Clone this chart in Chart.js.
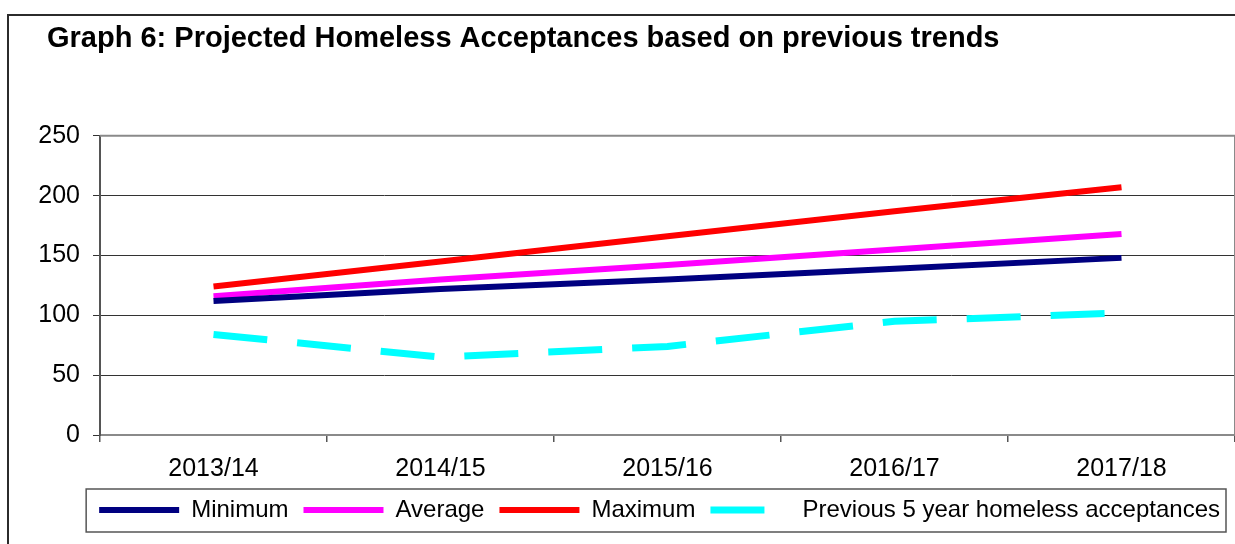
<!DOCTYPE html>
<html>
<head>
<meta charset="utf-8">
<title>Projected Homeless Acceptances</title>
<script src="https://cdn.jsdelivr.net/npm/chart.js@4.4.0/dist/chart.umd.min.js"></script>
<style>
  html, body { margin: 0; padding: 0; background: #fff; overflow: hidden; }
  .frame { position: absolute; left: 7px; top: 14px; width: 1300px; height: 600px; border: 2px solid #2b2b2b; }
  .wrap { position: absolute; left: 0; top: 0; width: 1235px; height: 544px; }
</style>
</head>
<body>
<div class="frame"></div>
<div class="wrap"><canvas id="chart"></canvas></div>
<script>
const years = ["2013/14", "2014/15", "2015/16", "2016/17", "2017/18"];
const minimum = [112, 122, 130, 139, 148];
const average = [116, 130, 142, 155, 168];
const maximum = [124, 145, 166, 187, 207];
const previous = [84, 65, 74, 95, 102];
const yTicks = [0, 50, 100, 150, 200, 250];

const FONT = "'Liberation Sans', Arial, sans-serif";

// grey frame on the top and right of the plot area
const plotFrame = {
  id: "plotFrame",
  afterLayout(chart) {
    // title sits a bit to the right of the axis labels
    chart.titleBlock.left = 47;
  },
  beforeDatasetsDraw(chart) {
    const { ctx, chartArea: a } = chart;
    ctx.save();
    ctx.strokeStyle = "#8a8a8a";
    ctx.lineWidth = 2;
    ctx.beginPath();
    ctx.moveTo(a.left, a.top);
    ctx.lineTo(a.right, a.top);
    ctx.lineTo(a.right, a.bottom);
    ctx.stroke();
    ctx.restore();
  },
};

// box round the legend
const legendBox = {
  id: "legendBox",
  afterDraw(chart) {
    const boxes = chart.legend.legendHitBoxes;
    if (!boxes.length) return;
    const last = boxes[boxes.length - 1];
    const left = boxes[0].left - 13;
    const right = last.left + last.width + 6;
    const mid = boxes[0].top + boxes[0].height / 2;
    const ctx = chart.ctx;
    ctx.save();
    ctx.strokeStyle = "#555";
    ctx.lineWidth = 1.5;
    ctx.strokeRect(left, mid - 21, right - left, 43);
    ctx.restore();
  },
};

const line = (label, data, color, extra) =>
  Object.assign(
    {
      label: label,
      data: data,
      borderColor: color,
      backgroundColor: color,
      borderWidth: 6,
      pointRadius: 0,
      tension: 0,
      borderCapStyle: "butt",
    },
    extra || {}
  );

new Chart(document.getElementById("chart"), {
  type: "line",
  data: {
    labels: years,
    datasets: [
      line("Minimum", minimum, "#000080"),
      line("Average", average, "#ff00ff"),
      line("Maximum", maximum, "#ff0000"),
      line("Previous 5 year homeless acceptances", previous, "#00ffff", {
        borderWidth: 7,
        borderDash: [54, 30],
      }),
    ],
  },
  options: {
    responsive: true,
    maintainAspectRatio: false,
    animation: false,
    layout: {
      padding: { left: 30, right: 0, top: 0, bottom: 12 },
    },
    scales: {
      x: {
        offset: true,
        afterFit(scale) {
          scale.height = 48;
        },
        grid: {
          offset: true,
          drawOnChartArea: false,
          tickLength: 7,
          color: "#555",
          lineWidth: 1.5,
        },
        border: { color: "#8a8a8a", width: 2 },
        ticks: {
          color: "#000",
          padding: 15,
          maxRotation: 0,
          font: { family: FONT, size: 25, lineHeight: 1 },
        },
      },
      y: {
        min: 0,
        max: 250,
        afterBuildTicks(scale) {
          scale.ticks = yTicks.map((v) => ({ value: v }));
        },
        afterFit(scale) {
          scale.width = 70;
        },
        grid: {
          color: "#333",
          lineWidth: 1,
          tickLength: 7,
        },
        border: { color: "#555", width: 2 },
        ticks: {
          color: "#000",
          padding: 13,
          font: { family: FONT, size: 25 },
        },
      },
    },
    plugins: {
      title: {
        display: true,
        text: "Graph 6: Projected Homeless Acceptances based on previous trends",
        align: "start",
        color: "#000",
        font: { family: FONT, size: 29, weight: "bold" },
        padding: { top: 22, bottom: 79 },
      },
      legend: {
        position: "bottom",
        align: "end",
        labels: {
          usePointStyle: true,
          pointStyle: "line",
          pointStyleWidth: 80,
          padding: 15,
          color: "#000",
          font: { family: FONT, size: 24 },
          generateLabels(chart) {
            // point styles drop the dash, so take it back from the dataset
            const items = Chart.defaults.plugins.legend.labels.generateLabels(chart);
            items.forEach((item) => {
              item.lineDash = chart.data.datasets[item.datasetIndex].borderDash || [];
            });
            return items;
          },
        },
      },
      tooltip: { enabled: false },
    },
  },
  plugins: [plotFrame, legendBox],
});
</script>
</body>
</html>
